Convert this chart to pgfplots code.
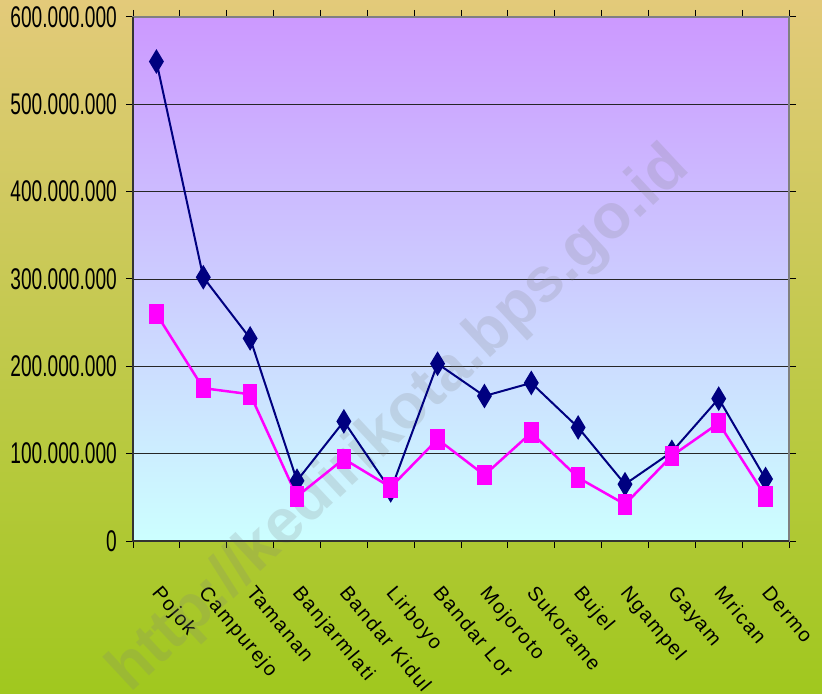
\documentclass[border=0pt]{standalone}
\usepackage{fontspec}
\setmainfont{Liberation Sans}
\newfontfamily\ylabfont{Liberation Sans}[FakeStretch=0.64]
\newfontfamily\xlabfont{Liberation Sans}[LetterSpace=8]
\usepackage{pgfplots}
\pgfplotsset{compat=1.18}

\definecolor{bgtop}{RGB}{227,202,122}
\definecolor{bgmid}{RGB}{196,201,70}
\definecolor{bgbot}{RGB}{160,200,30}
\definecolor{pltop}{RGB}{204,153,255}
\definecolor{plbot}{RGB}{204,255,255}
\definecolor{navyline}{RGB}{0,0,128}
\definecolor{pinkline}{RGB}{255,0,255}

\begin{document}
\begin{tikzpicture}
\useasboundingbox (0,0) rectangle (822bp,694bp);
\shade[top color=bgtop, middle color=bgmid, bottom color=bgbot] (0,0) rectangle (822bp,694bp);
\begin{axis}[
    at={(133bp,153bp)}, anchor=south west,
    width=656bp, height=524bp, scale only axis,
    xmin=0, xmax=14, ymin=0, ymax=600000000,
    xtick={0,...,14},
    x tick label as interval,
    xticklabels={Pojok,Campurejo,Tamanan,Banjarmlati,Bandar Kidul,Lirboyo,Bandar Lor,Mojoroto,Sukorame,Bujel,Ngampel,Gayam,Mrican,Dermo},
    ytick={0,100000000,200000000,300000000,400000000,500000000,600000000},
    scaled y ticks=false,
    /pgf/number format/.cd, fixed, precision=0, 1000 sep={.}, assume math mode=true,
    /pgfplots/.cd,
    tick align=outside,
    major tick length=7bp,
    tick style={black, line width=1bp},
    ymajorgrids,
    major grid style={black!85, line width=0.9bp},
    axis line style={draw=gray, line width=2.5bp},
    axis background/.style={shade, top color=pltop, bottom color=plbot},
    yticklabel style={font=\ylabfont\fontsize{30}{30}\selectfont, anchor=east, inner sep=0pt, xshift=-9bp},
    xticklabel style={font=\xlabfont\fontsize{20}{20}\selectfont, yshift=-36bp, xshift=6bp, rotate=-50, anchor=north west, inner sep=0pt},
    clip=false,
]
\node[rotate=43, text=gray, opacity=0.2, font=\bfseries\fontsize{63}{63}\selectfont] at (rel axis cs:0.407,0.231) {http://kedirikota.bps.go.id};
\draw[black!80, line width=1.3bp] (rel axis cs:0,1) -- (rel axis cs:0,0) -- (rel axis cs:1,0);
\addplot[navyline, line width=2bp, mark=diamond*, mark size=10.5bp, mark options={xscale=0.8, solid, fill=navyline}]
coordinates {
(0.5,549000000) (1.5,302000000) (2.5,232000000) (3.5,69000000) (4.5,137000000)
(5.5,58000000) (6.5,203000000) (7.5,166000000) (8.5,181000000) (9.5,130000000)
(10.5,65000000) (11.5,102000000) (12.5,163000000) (13.5,71000000)
};
\addplot[pinkline, line width=2.5bp, mark=square*, mark size=6bp, mark options={yscale=1.5, solid, fill=pinkline}]
coordinates {
(0.5,260000000) (1.5,175000000) (2.5,168000000) (3.5,51000000) (4.5,94000000)
(5.5,61500000) (6.5,116500000) (7.5,75500000) (8.5,124000000) (9.5,72500000)
(10.5,42000000) (11.5,97500000) (12.5,135000000) (13.5,51000000)
};
\end{axis}
\end{tikzpicture}
\end{document}
